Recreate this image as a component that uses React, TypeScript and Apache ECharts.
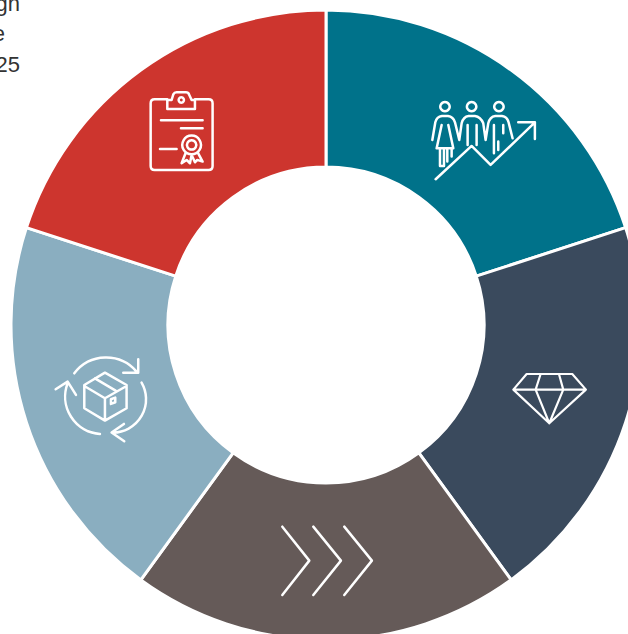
import React, { useEffect, useRef } from "react";
import * as echarts from "echarts";

// Five equal pillars, clockwise from twelve o'clock.
const segmentNames = ["Growth", "Quality", "Momentum", "Circularity", "Compliance"];
const segmentValues = [20, 20, 20, 20, 20];
const segmentColors = ["#00728A", "#3A4A5D", "#655A58", "#8AAEC0", "#CD352E"];
const clippedNoteLines = ["gn", "e", "25"];
const clippedNoteRightEdges = [20, 5, 20];

// Icon outlines, drawn on a 3x grid and scaled down when placed.
const ICON_PEOPLE =
  "M75 36a14 14 0 1 0 .01 0Z M155 36a14 14 0 1 0 .01 0Z M237 36a14 14 0 1 0 .01 0Z " +
  "M37 150L46 97Q50 80 66 78H84Q100 80 105 97L118 150 M65 105L50 175H100L85 105 " +
  "M60 175V228H72V175 M82 175V215 M95 175V200 " +
  "M118 150L125 100Q130 80 146 78H165Q182 80 190 100L197 150 M143 105V165 M170 105V165 " +
  "M197 150L205 100Q210 80 226 78H246Q262 80 266 97L278 145 M222 105V190 M250 105V130 M235 155V180 " +
  "M47 268L155 168L212 225L345 97 M295 97H345V147";
const ICON_GEM =
  "M80 42H217L258 89L148 190L40 89Z M40 89H258 M122 42L107 89L148 190 M177 42L190 89L148 190";
const ICON_CHEVRONS =
  "M37 35L118 137L37 240 M130 35L213 137L130 240 M223 35L306 137L223 240";
const ICON_BOX =
  "M180 68L245 105V175L180 212L118 175V105Z M118 108L180 145L245 108 M180 145V212 M150 85L212 122 " +
  "M198 148L211 143V157L198 162Z " +
  "M88 70A120 120 0 0 1 275 65 M280 28V68H235 " +
  "M290 98A100 100 0 0 1 205 248 M237 222L200 248L238 274 " +
  "M165 252A112 112 0 0 1 68 100 M32 118L68 95L93 135";
const ICON_CLIPBOARD =
  "M44 43H82 M165 43H206Q218 43 218 55V243Q218 255 206 255H44Q32 255 32 243V55Q32 43 44 43 " +
  "M82 72H165V45H155L147 28Q145 22 138 22H110Q103 22 100 28L95 45H82Z " +
  "M124 37a8 8 0 1 0 .01 0Z " +
  "M63 106H188 M123 130H188 M60 192H110 " +
  "M155 152a28 28 0 1 0 .01 0Z M155 166a14 14 0 1 0 .01 0Z " +
  "M137 204L125 235L140 225L150 235L155 210L165 232L172 225L188 230L174 204";

echarts.graphic.registerShape("iconPeople", echarts.graphic.extendPath(ICON_PEOPLE, {}));
echarts.graphic.registerShape("iconGem", echarts.graphic.extendPath(ICON_GEM, {}));
echarts.graphic.registerShape("iconChevrons", echarts.graphic.extendPath(ICON_CHEVRONS, {}));
echarts.graphic.registerShape("iconBox", echarts.graphic.extendPath(ICON_BOX, {}));
echarts.graphic.registerShape("iconClipboard", echarts.graphic.extendPath(ICON_CLIPBOARD, {}));

const icon = (type: string, x: number, y: number, lineWidth = 7) => ({
  type,
  x,
  y,
  scaleX: 1 / 3,
  scaleY: 1 / 3,
  silent: true,
  z: 10,
  style: { fill: "none", stroke: "#ffffff", lineWidth, lineJoin: "round", lineCap: "round" },
});

export default function App() {
  const ref = useRef<HTMLDivElement>(null);

  useEffect(() => {
    const chart = echarts.init(ref.current!, null, { renderer: "svg" });
    chart.setOption({
      animation: false,
      backgroundColor: "#ffffff",
      series: [
        {
          type: "pie",
          center: [326, 325],
          radius: [158, 315],
          startAngle: 90,
          clockwise: true,
          silent: true,
          label: { show: false },
          labelLine: { show: false },
          itemStyle: { borderColor: "#ffffff", borderWidth: 3 },
          data: segmentNames.map((name, i) => ({
            name,
            value: segmentValues[i],
            itemStyle: { color: segmentColors[i] },
          })),
        },
      ],
      graphic: [
        ...clippedNoteLines.map((text, i) => ({
          type: "text",
          x: clippedNoteRightEdges[i],
          y: 3 + i * 30.5,
          silent: true,
          style: {
            text,
            fill: "#333333",
            fontFamily: "Liberation Sans",
            fontSize: 22,
            align: "right",
            verticalAlign: "middle",
          },
        })),
        icon("iconPeople", 420, 90, 7.5),
        icon("iconGem", 500, 360, 6.5),
        icon("iconChevrons", 270, 515, 7.5),
        icon("iconBox", 45, 350, 7.5),
        icon("iconClipboard", 140, 85, 7.5),
      ],
    });
    return () => chart.dispose();
  }, []);

  return <div ref={ref} style={{ position: "fixed", left: 0, top: 0, width: 628, height: 634 }} />;
}
